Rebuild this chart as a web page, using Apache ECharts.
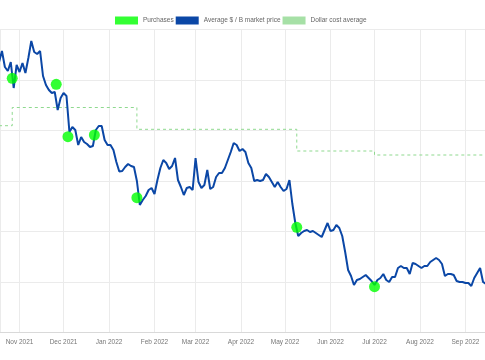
<!DOCTYPE html>
<html><head><meta charset="utf-8">
<script src="https://cdn.jsdelivr.net/npm/echarts@6/dist/echarts.min.js"></script>
<style>html,body{margin:0;padding:0;background:#fff}#c{width:485px;height:360px}</style>
</head><body><div id="c"></div>
<script>
// Average market price, sampled every 2 days starting 2021-10-18
const priceStart = [2021, 10, 18];
const priceStepDays = 2;
const priceValues = [
270.5,281.5,265.5,261.5,270.5,244.5,267.5,260.5,269.5,259.5,
274.5,291.5,280.5,278.5,281.5,256.5,247.5,242.5,239.5,240.5,
222.5,234.5,239.5,236.5,200.5,205.5,202.5,187.5,195.5,190.5,
188.5,185.5,186.5,202.5,206.5,206.5,192.5,187.5,187.5,182.5,
170.5,161,161.5,165.5,168.5,166.5,165.5,151.5,127.5,132.5,
136.5,142.5,144.5,138.5,152.5,164.5,172.5,169.5,163.5,166.5,
174.5,152.5,145.5,137.5,144.5,145.5,142.5,174.5,150.5,144.5,
147.5,162.5,143.5,145.5,155.5,159.5,159.5,164.5,172.5,180.5,
189.5,187.5,181.5,183.5,180.5,169.5,164.5,151.5,152.5,151.5,
152.5,158.5,155.5,150.5,145.5,150.5,145.5,141.5,143.5,152.5,
128.5,109.5,96.5,99.5,101.5,102.5,100.5,101.5,99.5,97.5,
95.5,102.5,109.5,101.5,102.5,107.5,104.5,96.5,80.5,62.5,
56.5,47.5,52.5,53.5,55.5,57.5,54.5,51.5,47.5,52.5,
54.5,58.5,52.5,50.5,55.5,55.5,64.5,66.5,64.5,64.5,
58.5,69.5,68.5,66.5,64.5,66.5,66.5,70.5,72.5,74.5,
72.5,68.5,56.5,58.5,58.5,57.5,51.5,50.5,50.5,49.5,
49.5,46.5,54.5,59.5,64.5,50.5,48.5
];
const purchaseDates = ['2021-10-27','2021-11-26','2021-12-04','2021-12-22','2022-01-20','2022-05-09','2022-07-01'];
const purchaseValues = [254.2, 248.2, 195.8, 197.5, 134.8, 105.2, 45.8];
const dcaDates = ['2021-10-18','2021-10-27','2021-11-26','2021-12-04','2021-12-22','2022-01-20','2022-05-09','2022-07-01','2022-09-15'];
const dcaValues = [206.8, 225, 225, 225, 225, 203.2, 181.5, 177.5, 177.5];
const monthNames = ['Jan','Feb','Mar','Apr','May','Jun','Jul','Aug','Sep','Oct','Nov','Dec'];

const priceData = priceValues.map((v, i) => [new Date(priceStart[0], priceStart[1]-1, priceStart[2] + i*priceStepDays).getTime(), v]);
const purchaseData = purchaseDates.map((d, i) => [d, purchaseValues[i]]);
const dcaData = dcaDates.map((d, i) => [d, dcaValues[i]]);

const FONT = '"Liberation Sans", Arial, Helvetica, sans-serif';
const chart = echarts.init(document.getElementById('c'), null, {renderer:'canvas'});
chart.setOption({
  animation: false,
  backgroundColor: '#fff',
  legend: {
    left: 115, top: 16.5, padding: 0,
    itemWidth: 23, itemHeight: 8, itemGap: 2,
    textStyle: {fontSize: 6.5, color: '#666', fontFamily: FONT},
    data: [
      {name: 'Purchases', icon: 'rect'},
      {name: 'Average $ / B market price', icon: 'rect'},
      {name: 'Dollar cost average', icon: 'rect'}
    ]
  },
  grid: {left: 0, right: 0, top: 29.5, bottom: 27.5},
  xAxis: {
    type: 'time',
    min: new Date(2021, 9, 18, 16).getTime(),
    max: new Date(2022, 8, 14, 8).getTime(),
    minInterval: 28*86400000,
    maxInterval: 31*86400000,
    splitNumber: 11,
    axisLine: {show: true, lineStyle: {color: '#d9d9d9', width: 1}},
    axisTick: {show: false},
    splitLine: {show: true, lineStyle: {color: '#ebebeb', width: 1}},
    axisLabel: {
      fontSize: 6.5, color: '#777', fontFamily: FONT, margin: 6,
      hideOverlap: false,
      formatter: function (val) { const d = new Date(val); return monthNames[d.getMonth()] + ' ' + d.getFullYear(); }
    }
  },
  yAxis: {
    type: 'value', min: 0, max: 303, interval: 50.5,
    axisLine: {show: false}, axisTick: {show: false}, axisLabel: {show: false},
    splitLine: {show: true, lineStyle: {color: '#ebebeb', width: 1}}
  },
  series: [
    {
      name: 'Purchases', type: 'scatter', data: purchaseData,
      symbolSize: 11, itemStyle: {color: '#00ff00'}, z: 5
    },
    {
      name: 'Average $ / B market price', type: 'line', data: priceData,
      showSymbol: false, symbol: 'none',
      lineStyle: {color: '#0b47a6', width: 2}, itemStyle: {color: '#0b47a6'}, z: 3
    },
    {
      name: 'Dollar cost average', type: 'line', step: 'end', data: dcaData,
      showSymbol: false, symbol: 'none',
      lineStyle: {color: '#8fd98f', width: 1, type: [3, 3]}, itemStyle: {color: '#a6e0a6'}, z: 2
    }
  ]
});
</script>
</body></html>
